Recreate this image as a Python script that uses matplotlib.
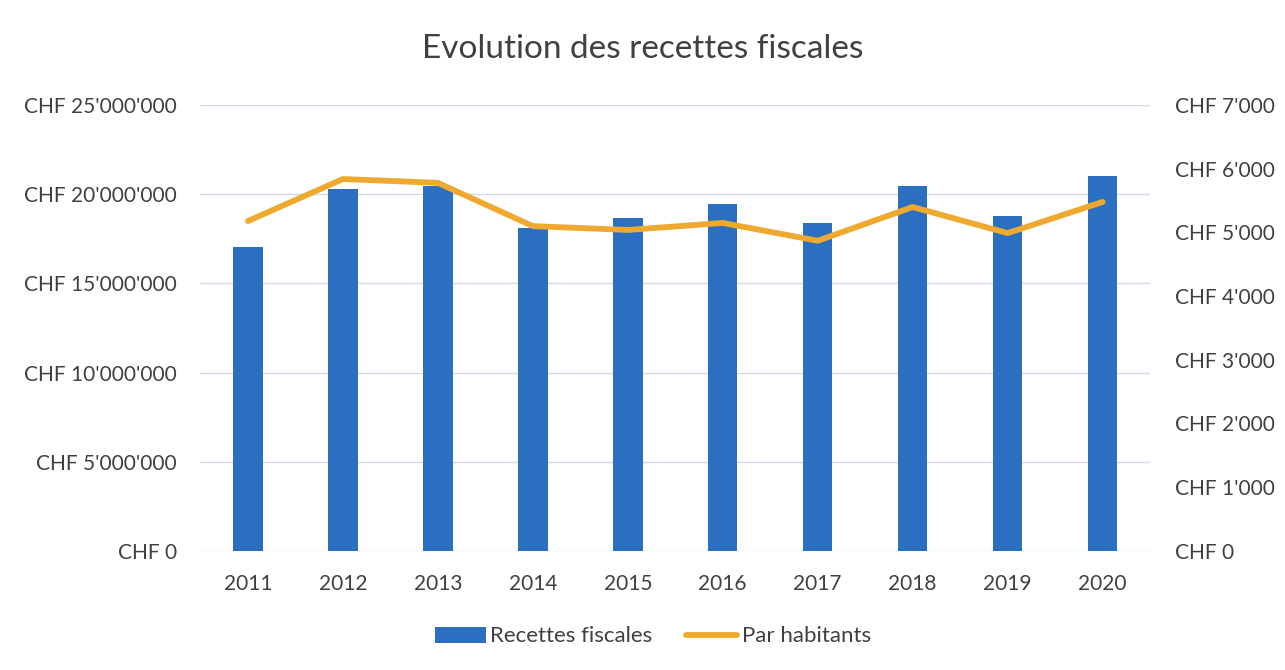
import matplotlib.pyplot as plt
import numpy as np

years = ['2011', '2012', '2013', '2014', '2015', '2016', '2017', '2018', '2019', '2020']
recettes = [17030000, 20280000, 20450000, 18100000, 18660000, 19440000, 18380000, 20450000, 18770000, 21000000]
par_habitant = [5180, 5840, 5780, 5100, 5040, 5150, 4870, 5400, 4990, 5480]

left_ticks = [0, 5000000, 10000000, 15000000, 20000000, 25000000]
right_ticks = [0, 1000, 2000, 3000, 4000, 5000, 6000, 7000]

def chf(v):
    return "CHF " + "{:,}".format(int(v)).replace(",", "'")

plt.rcParams['font.family'] = ['Lato', 'DejaVu Sans']
text_col = '#404040'

fig = plt.figure(figsize=(12.85, 6.7), dpi=100)
ax = fig.add_axes([0.156, 0.178, 0.739, 0.665])
x = np.arange(len(years))

bars = ax.bar(x, recettes, width=0.31, color='#2B6FC0', label='Recettes fiscales', zorder=2)
ax.set_xlim(-0.5, len(years) - 0.5)
ax.set_ylim(0, 25000000)
ax.set_yticks(left_ticks)
ax.set_yticklabels([chf(v) for v in left_ticks])
ax.set_xticks(x)
ax.set_xticklabels(years)
ax.grid(axis='y', color='#D3DAE8', linewidth=1, zorder=0)
for s in ax.spines.values():
    s.set_visible(False)
ax.tick_params(length=0, labelsize=15, colors=text_col, pad=17)
ax.tick_params(axis='x', pad=17)

ax2 = ax.twinx()
line, = ax2.plot(x, par_habitant, color='#EEA92E', linewidth=4.2, solid_capstyle='round',
                 label='Par habitants', zorder=3)
ax2.set_ylim(0, 7000)
ax2.set_yticks(right_ticks)
ax2.set_yticklabels([chf(v) for v in right_ticks])
for s in ax2.spines.values():
    s.set_visible(False)
ax2.tick_params(length=0, labelsize=15, colors=text_col, pad=18)

fig.text(0.5, 0.927, 'Evolution des recettes fiscales', ha='center', va='center',
         fontsize=24, color=text_col)

fig.legend([bars, line], ['Recettes fiscales', 'Par habitants'], loc='center',
           bbox_to_anchor=(0.508, 0.05), ncol=2, frameon=False, fontsize=16,
           handlelength=2.3, handletextpad=0.2, columnspacing=1.5,
           labelcolor=text_col)

fig.savefig('out.png', dpi=100)
